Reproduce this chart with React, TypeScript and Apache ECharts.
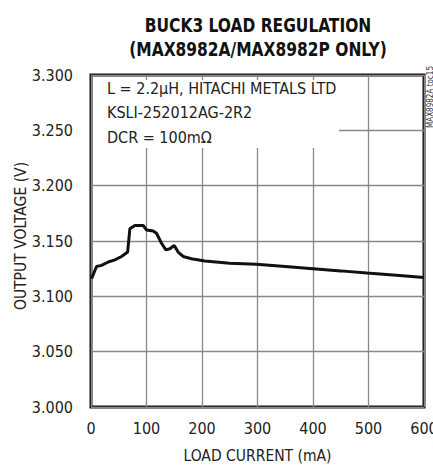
import React, { useEffect, useRef } from "react";
import * as echarts from "echarts";

const loadCurrent = [1, 10, 19, 31, 43, 55, 66, 70, 79, 94, 100, 112, 118, 127, 135, 142, 150, 157, 166, 181, 205, 250, 298, 350, 400, 450, 497, 550, 600];
const outputVoltage = [3.116, 3.127, 3.128, 3.131, 3.133, 3.136, 3.140, 3.161, 3.164, 3.164, 3.160, 3.159, 3.157, 3.148, 3.142, 3.143, 3.146, 3.140, 3.136, 3.134, 3.132, 3.130, 3.129, 3.127, 3.125, 3.123, 3.121, 3.119, 3.117];
const titleLines = ["BUCK3 LOAD REGULATION", "(MAX8982A/MAX8982P ONLY)"];
const noteLines = ["L = 2.2µH, HITACHI METALS LTD", "KSLI-252012AG-2R2", "DCR = 100mΩ"];
const xName = "LOAD CURRENT (mA)";
const yName = "OUTPUT VOLTAGE (V)";
const tocLabel = "MAX8982A toc15";

const FONT = "'DejaVu Sans Condensed', 'Liberation Sans Narrow', 'Roboto Condensed', sans-serif";

export default function App() {
  const ref = useRef<HTMLDivElement>(null);
  useEffect(() => {
    if (!ref.current) return;
    const chart = echarts.init(ref.current, null, { renderer: "svg" });
    const data = loadCurrent.map((x, i) => [x, outputVoltage[i]]);
    chart.setOption({
      animation: false,
      backgroundColor: "#ffffff",
      textStyle: { fontFamily: FONT },
      grid: {
        left: 91, right: 9, top: 75, bottom: 58,
        outerBoundsMode: "none",
        containLabel: false,
        show: true, borderColor: "#111", borderWidth: 3, backgroundColor: "transparent",
      },
      xAxis: {
        type: "value",
        min: 0,
        max: 600,
        interval: 100,
        name: xName,
        nameLocation: "middle",
        nameGap: 41,
        nameTextStyle: { fontFamily: FONT, fontSize: 15.5, color: "#222" },
        axisLine: { show: false },
        axisTick: { show: false },
        axisLabel: { fontFamily: FONT, fontSize: 16, color: "#222", margin: 13 },
        splitLine: { show: true, lineStyle: { color: "#888", width: 1.3 } },
      },
      yAxis: {
        type: "value",
        min: 3.0,
        max: 3.3,
        interval: 0.05,
        axisLine: { show: false },
        axisTick: { show: false },
        axisLabel: { fontFamily: FONT, fontSize: 16, color: "#222", margin: 18, formatter: (v: number) => v.toFixed(3) },
        splitLine: { show: true, lineStyle: { color: "#888", width: 1.3 } },
      },
      graphic: [
        ...titleLines.map((t, i) => ({
          type: "text",
          z: 60,
          x: 258,
          y: 25 + i * 24,
          scaleX: 0.86,
          style: { text: t, fontFamily: FONT, fontWeight: "bold", fontSize: 20, fill: "#111", align: "center", verticalAlign: "middle" },
        })),
        { type: "rect", z: 50, shape: { x: 93, y: 80, width: 246, height: 68 }, style: { fill: "#ffffff" } },
        ...noteLines.map((t, i) => ({
          type: "text",
          z: 51,
          x: 107,
          y: 88 + i * 24.5,
          style: { text: t, fontFamily: FONT, fontSize: 16, fill: "#222", verticalAlign: "middle" },
        })),
        {
          type: "text",
          z: 51,
          x: 21,
          y: 236,
          rotation: Math.PI / 2,
          style: { text: yName, fontFamily: FONT, fontSize: 15.5, fill: "#222", align: "center", verticalAlign: "middle" },
        },
        {
          type: "text",
          z: 51,
          x: 430,
          y: 97,
          rotation: Math.PI / 2,
          style: { text: tocLabel, fontFamily: FONT, fontSize: 8, fill: "#333", align: "center", verticalAlign: "middle" },
        },
      ],
      series: [
        {
          type: "line",
          data,
          showSymbol: false,
          smooth: false,
          lineStyle: { color: "#111", width: 3 },
          z: 10,
        },
      ],
    });
    return () => chart.dispose();
  }, []);
  return <div ref={ref} style={{ width: 433, height: 465, position: "absolute", left: 0, top: 0 }} />;
}
